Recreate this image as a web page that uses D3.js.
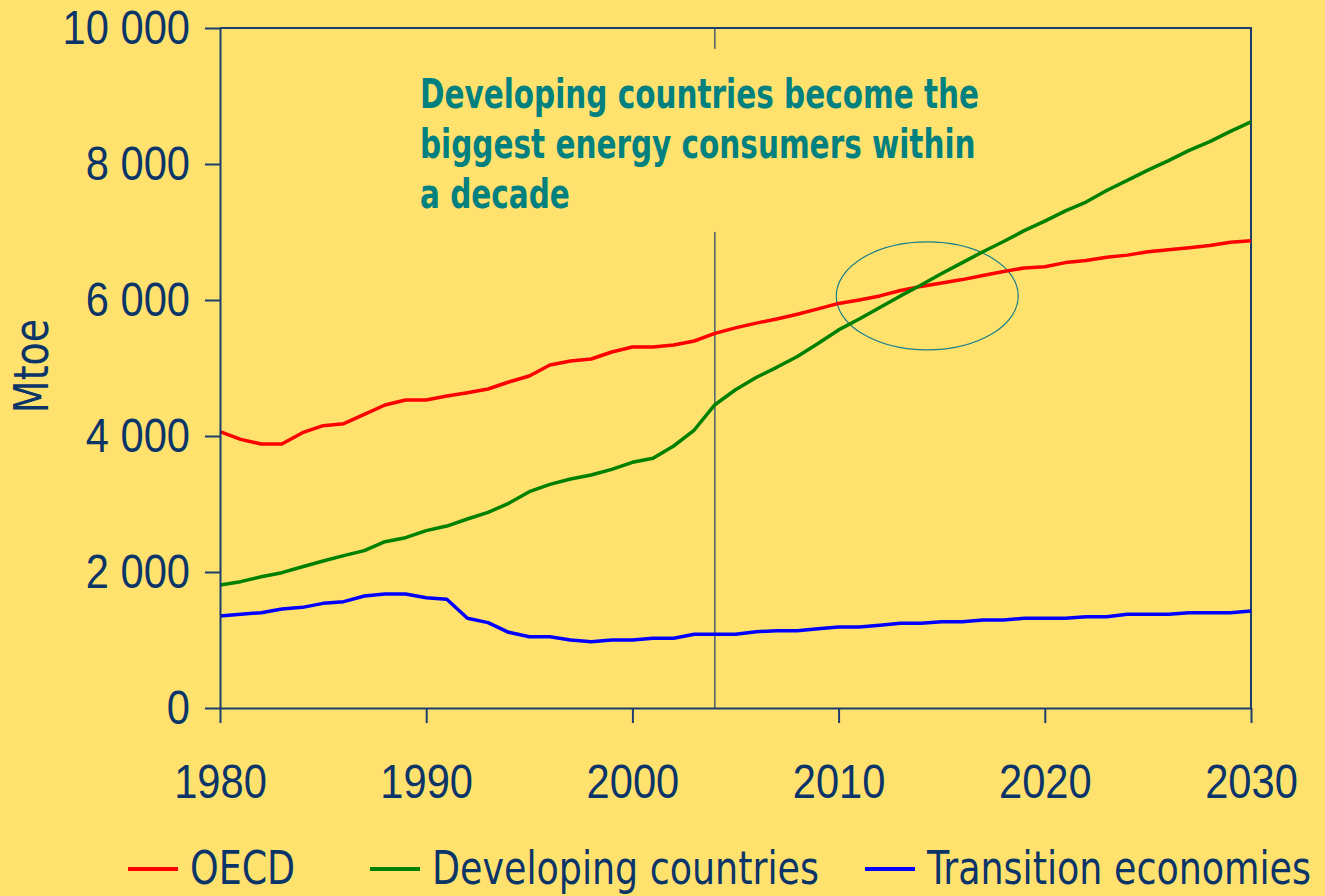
<!DOCTYPE html>
<html>
<head>
<meta charset="utf-8">
<script src="https://cdn.jsdelivr.net/npm/d3@7"></script>
<style>
  html, body { margin: 0; padding: 0; background: #FFE26E; }
  svg { display: block; font-family: "DejaVu Sans Condensed", "DejaVu Sans", sans-serif; font-stretch: condensed; }
  .axis path, .axis line { stroke: #1b3d6e; stroke-width: 2; }
  .axis text { fill: #0b3468; font-size: 49px; }
</style>
</head>
<body>
<div id="chart"></div>
<script>
// data (Mtoe)
const years = d3.range(1980, 2031);
const oecd = [4063, 3950, 3882, 3882, 4049, 4152, 4181, 4319, 4456, 4529,
  4529, 4588, 4637, 4691, 4794, 4882, 5044, 5103, 5132, 5235,
  5309, 5309, 5338, 5397, 5510, 5590, 5660, 5720, 5790, 5870,
  5950, 6000, 6060, 6140, 6200, 6250, 6300, 6360, 6420, 6470,
  6490, 6550, 6580, 6630, 6660, 6710, 6740, 6770, 6800, 6850, 6870];
const developing = [1809, 1858, 1931, 1990, 2078, 2162, 2240, 2314, 2446, 2505,
  2608, 2676, 2779, 2877, 3010, 3181, 3289, 3368, 3426, 3510,
  3613, 3672, 3853, 4088, 4460, 4680, 4860, 5010, 5170, 5360,
  5560, 5720, 5890, 6060, 6220, 6390, 6550, 6710, 6860, 7020,
  7160, 7310, 7440, 7610, 7760, 7910, 8050, 8200, 8330, 8480, 8620];
const transition = [1353, 1380, 1402, 1456, 1480, 1539, 1564, 1647, 1676, 1676,
  1622, 1598, 1319, 1255, 1113, 1049, 1049, 1000, 975, 1000,
  1000, 1025, 1025, 1084, 1084, 1084, 1122, 1137, 1137, 1166,
  1191, 1191, 1216, 1245, 1245, 1270, 1270, 1294, 1294, 1319,
  1319, 1319, 1343, 1343, 1378, 1378, 1378, 1402, 1402, 1402, 1426];
const seriesNames = ["OECD", "Developing countries", "Transition economies"];
const seriesColors = ["#ff0000", "#008000", "#0000ff"];
const xTicks = [1980, 1990, 2000, 2010, 2020, 2030];
const yTicks = [0, 2000, 4000, 6000, 8000, 10000];
const splitYear = 2004;
const noteLines = ["Developing countries become the", "biggest energy consumers within", "a decade"];
const noteYear = 2014.3, noteValue = 6060;

(function () {
  const svg_width = 1325, svg_height = 896;
  const margin = { top: 28, right: 74, bottom: 188, left: 220 },
    width = svg_width - margin.left - margin.right,
    height = svg_height - margin.top - margin.bottom;
  const sx = 0.85;       // horizontal squeeze, the source font is a narrow one
  const sxBold = 0.82;

  const x = d3.scaleLinear().domain([1980, 2030]).range([0, width]);
  const y = d3.scaleLinear().domain([0, 10000]).range([height, 0]);

  const fmt = d3.formatLocale({ decimal: ".", thousands: " ", grouping: [3], currency: ["", ""] }).format(",");

  // squeeze a text horizontally round its own anchor
  function squeeze(sel, k) {
    sel.each(function () {
      const t = d3.select(this);
      const x0 = +t.attr("x") || 0;
      t.attr("x", x0 / k).attr("transform", "scale(" + k + ",1)");
    });
  }

  const root = d3.select("#chart").append("svg")
    .attr("width", svg_width)
    .attr("height", svg_height);
  const svg = root.append("g")
    .attr("transform", "translate(" + margin.left + "," + margin.top + ")");

  // frame top + right
  svg.append("path")
    .attr("d", "M0,0H" + width + "V" + height)
    .attr("fill", "none")
    .attr("stroke", "#1b3d6e")
    .attr("stroke-width", 2);

  // 2004 split line
  svg.append("line")
    .attr("x1", x(splitYear)).attr("x2", x(splitYear))
    .attr("y1", 0).attr("y2", height)
    .attr("stroke", "#1b3d6e").attr("stroke-width", 1.2);

  // annotation, with a background box cutting the split line
  const noteG = svg.append("g");
  const noteBg = noteG.append("rect").attr("fill", "#FFE26E");
  const noteInner = noteG.append("g").attr("transform", "scale(" + sxBold + ",1)");
  const note = noteInner.append("text")
    .attr("y", 80)
    .attr("fill", "#00807f")
    .style("font-size", "40px")
    .style("font-weight", "bold");
  note.selectAll("tspan")
    .data(noteLines)
    .enter().append("tspan")
    .attr("x", 200 / sxBold)
    .attr("dy", (d, i) => i === 0 ? 0 : 50)
    .text(d => d);
  const bb = noteInner.node().getBBox();
  noteBg.attr("x", 200).attr("y", bb.y - 22).attr("width", bb.width * sxBold).attr("height", bb.height + 36);

  // ellipse round the crossing
  svg.append("ellipse")
    .attr("cx", x(noteYear))
    .attr("cy", y(noteValue))
    .attr("rx", 91).attr("ry", 54)
    .attr("fill", "none")
    .attr("stroke", "#1a7f8c")
    .attr("stroke-width", 1.2);

  // lines
  const allSeries = [oecd, developing, transition];
  const line = d3.line()
    .x((d, i) => x(years[i]))
    .y(d => y(d));
  svg.selectAll(".series")
    .data(allSeries)
    .enter().append("path")
    .attr("class", "series")
    .attr("d", line)
    .attr("fill", "none")
    .attr("stroke", (d, i) => seriesColors[i])
    .attr("stroke-width", 3.5)
    .attr("stroke-linejoin", "round");

  // axes
  svg.append("g")
    .attr("class", "axis axis-x")
    .attr("transform", "translate(0," + height + ")")
    .call(d3.axisBottom(x).tickValues(xTicks).tickFormat(d3.format("d")).tickSize(15).tickSizeOuter(0).tickPadding(40))
    .selectAll("text").call(squeeze, sx);

  svg.append("g")
    .attr("class", "axis axis-y")
    .call(d3.axisLeft(y).tickValues(yTicks).tickFormat(fmt).tickSize(15).tickSizeOuter(0).tickPadding(15))
    .selectAll("text").call(squeeze, sx);

  // y label
  root.append("text")
    .attr("transform", "translate(48,366) rotate(-90) scale(0.88,1)")
    .attr("text-anchor", "middle")
    .attr("fill", "#0b3468")
    .style("font-size", "48px")
    .text("Mtoe");

  // legend
  const legendX = [128, 370, 865];
  const legend = root.selectAll(".legend")
    .data(seriesNames)
    .enter().append("g")
    .attr("class", "legend")
    .attr("transform", (d, i) => "translate(" + legendX[i] + ",869)");
  legend.append("line")
    .attr("x1", 0).attr("x2", 50)
    .attr("stroke", (d, i) => seriesColors[i])
    .attr("stroke-width", 4);
  legend.append("text")
    .attr("x", 62)
    .attr("y", 15)
    .attr("fill", "#0b3468")
    .style("font-size", "46px")
    .text(d => d)
    .call(squeeze, 0.88);
})();
</script>
</body>
</html>
